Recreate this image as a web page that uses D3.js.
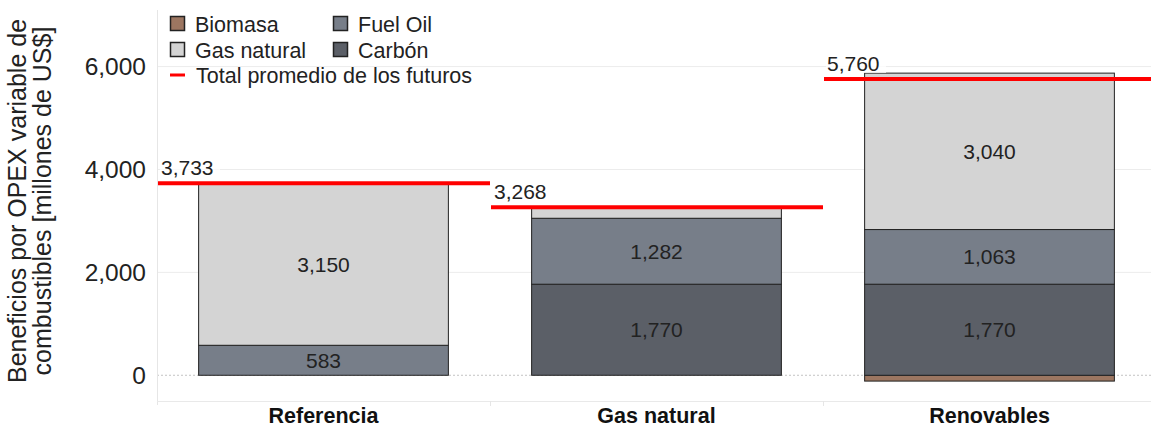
<!DOCTYPE html>
<html>
<head>
<meta charset="utf-8">
<script src="https://cdn.jsdelivr.net/npm/d3@7"></script>
<style>
  body { margin: 0; background: #fff; }
  svg { font-family: "Liberation Sans", Arial, sans-serif; }
</style>
</head>
<body>
<script>
// data
const categories = ["Referencia", "Gas natural", "Renovables"];
const seriesNames = ["Biomasa", "Carbón", "Fuel Oil", "Gas natural"];
const biomasa = [0, 0, -113];
const carbon = [0, 1770, 1770];
const fuelOil = [583, 1282, 1063];
const gasNatural = [3150, 216, 3040];
const totalPromedio = [3733, 3268, 5760];
const yTicks = [0, 2000, 4000, 6000];

const width = 1151;
const height = 427;
const colors = {
  "Biomasa": "#9c7661",
  "Carbón": "#5b5f67",
  "Fuel Oil": "#777e89",
  "Gas natural": "#d4d4d4"
};

const rows = categories.map((c, i) => ({
  cat: c,
  "Biomasa": biomasa[i],
  "Carbón": carbon[i],
  "Fuel Oil": fuelOil[i],
  "Gas natural": gasNatural[i]
}));

const svg = d3.select("body").append("svg")
  .attr("width", width)
  .attr("height", height);

// scales
const x = d3.scaleBand().domain(categories).range([157, 1156]).padding(0);
const y = d3.scaleLinear().domain([-500, 7100]).range([401, 10]);
const barW = x.bandwidth() * 0.75;

// grid
svg.append("g")
  .selectAll("line")
  .data(yTicks.filter(d => d !== 0))
  .join("line")
  .attr("x1", 157).attr("x2", width)
  .attr("y1", d => y(d)).attr("y2", d => y(d))
  .attr("stroke", "#ececec").attr("stroke-width", 1);

svg.append("line")
  .attr("x1", 157).attr("x2", width)
  .attr("y1", y(0)).attr("y2", y(0))
  .attr("stroke", "#c4c4c4").attr("stroke-width", 1)
  .attr("stroke-dasharray", "2,2");

// frame lines
svg.append("line")
  .attr("x1", 157.5).attr("x2", 157.5).attr("y1", 10).attr("y2", 405)
  .attr("stroke", "#e6e6e6");
svg.append("line")
  .attr("x1", 157).attr("x2", width).attr("y1", 401.5).attr("y2", 401.5)
  .attr("stroke", "#e9e9e9");
svg.append("g")
  .selectAll("line")
  .data(categories.slice(1))
  .join("line")
  .attr("x1", d => x(d) + 0.5).attr("x2", d => x(d) + 0.5)
  .attr("y1", 401).attr("y2", 406)
  .attr("stroke", "#e6e6e6");

// y axis
const yAxis = svg.append("g")
  .attr("transform", "translate(157,0)")
  .call(d3.axisLeft(y).tickValues(yTicks).tickFormat(d3.format(",")).tickSize(0).tickPadding(11));
yAxis.select(".domain").remove();
yAxis.selectAll("text")
  .attr("font-size", 24.5)
  .attr("fill", "#222")
  .attr("font-family", "Liberation Sans, Arial, sans-serif");

// y title
const yTitle = svg.append("text")
  .attr("transform", "translate(0,201) rotate(-90)")
  .attr("text-anchor", "middle")
  .attr("font-size", 25)
  .attr("fill", "#222");
yTitle.append("tspan").attr("x", 0).attr("y", 26).text("Beneficios por OPEX variable de");
yTitle.append("tspan").attr("x", 0).attr("y", 51).text("combustibles [millones de US$]");

// x labels
svg.append("g")
  .selectAll("text")
  .data(categories)
  .join("text")
  .attr("x", d => x(d) + x.bandwidth() / 2)
  .attr("y", 423)
  .attr("text-anchor", "middle")
  .attr("font-size", 21.5)
  .attr("font-weight", "bold")
  .attr("fill", "#111")
  .text(d => d);

// stacked bars
const stack = d3.stack().keys(seriesNames).offset(d3.stackOffsetDiverging);
const layers = stack(rows);

const layerG = svg.append("g")
  .selectAll("g")
  .data(layers)
  .join("g")
  .attr("fill", d => colors[d.key]);

layerG.selectAll("rect")
  .data(d => d.map(p => ({ key: d.key, p })))
  .join("rect")
  .attr("x", d => x(d.p.data.cat) + (x.bandwidth() - barW) / 2)
  .attr("width", barW)
  .attr("y", d => y(Math.max(d.p[0], d.p[1])))
  .attr("height", d => Math.abs(y(d.p[0]) - y(d.p[1])))
  .attr("stroke", "#222")
  .attr("stroke-width", 1);

// segment labels
layerG.selectAll("text")
  .data(d => d.map(p => ({ key: d.key, p })).filter(d => Math.abs(d.p[1] - d.p[0]) >= 500))
  .join("text")
  .attr("x", d => x(d.p.data.cat) + x.bandwidth() / 2)
  .attr("y", d => y((d.p[0] + d.p[1]) / 2))
  .attr("dy", "0.35em")
  .attr("text-anchor", "middle")
  .attr("font-size", 21)
  .attr("fill", "#222")
  .text(d => d3.format(",")(d.p[1] - d.p[0]));

// total average lines
const totals = categories.map((c, i) => ({ cat: c, v: totalPromedio[i] }));
const totG = svg.append("g");
totG.selectAll("line")
  .data(totals)
  .join("line")
  .attr("x1", d => x(d.cat) + 1)
  .attr("x2", d => Math.min(x(d.cat) + x.bandwidth(), width))
  .attr("y1", d => y(d.v)).attr("y2", d => y(d.v))
  .attr("stroke", "#ff0000")
  .attr("stroke-width", 4);

const totLabels = totG.selectAll("g.lab")
  .data(totals)
  .join("g").attr("class", "lab");
totLabels.append("rect")
  .attr("x", d => x(d.cat) + 3)
  .attr("y", d => y(d.v) - 27)
  .attr("width", 60).attr("height", 21)
  .attr("fill", "#fff").attr("opacity", 0.75);
totLabels.append("text")
  .attr("x", d => x(d.cat) + 4)
  .attr("y", d => y(d.v) - 8)
  .attr("font-size", 21)
  .attr("fill", "#222")
  .text(d => d3.format(",")(d.v));

// legend
const legendItems = [
  { name: "Biomasa", color: colors["Biomasa"], x: 170, y: 24 },
  { name: "Fuel Oil", color: colors["Fuel Oil"], x: 333, y: 24 },
  { name: "Gas natural", color: colors["Gas natural"], x: 170, y: 50 },
  { name: "Carbón", color: colors["Carbón"], x: 333, y: 50 }
];
const legend = svg.append("g");
legend.selectAll("rect")
  .data(legendItems)
  .join("rect")
  .attr("x", d => d.x + 0.5).attr("y", d => d.y - 7.5)
  .attr("width", 14).attr("height", 14)
  .attr("fill", d => d.color)
  .attr("stroke", "#222").attr("stroke-width", 1.5);
legend.selectAll("text")
  .data(legendItems)
  .join("text")
  .attr("x", d => d.x + 25).attr("y", d => d.y)
  .attr("dy", "0.35em")
  .attr("font-size", 21.5)
  .attr("fill", "#222")
  .text(d => d.name);
legend.append("line")
  .attr("x1", 170).attr("x2", 185).attr("y1", 75).attr("y2", 75)
  .attr("stroke", "#ff0000").attr("stroke-width", 3);
legend.append("text")
  .attr("x", 196).attr("y", 75).attr("dy", "0.35em")
  .attr("font-size", 21.5).attr("fill", "#222")
  .text("Total promedio de los futuros");
</script>
</body>
</html>
